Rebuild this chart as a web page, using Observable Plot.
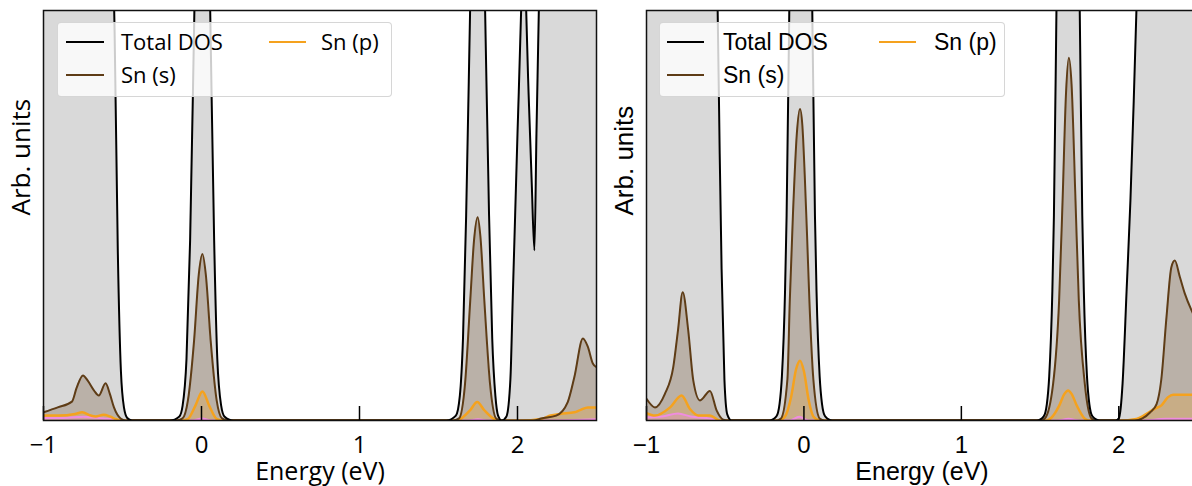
<!DOCTYPE html>
<html><head><meta charset="utf-8">
<script src="https://cdn.jsdelivr.net/npm/d3@7"></script>
<script src="https://cdn.jsdelivr.net/npm/@observablehq/plot@0.6"></script>
<style>
html,body{margin:0;padding:0;background:#fff;overflow:hidden;}
#wrap{position:relative;width:1192px;height:486px;overflow:hidden;}
.panel{position:absolute;top:0;height:486px;}
.panel svg{max-width:none !important;}
.legend{position:absolute;background:rgba(255,255,255,0.8);border:1px solid rgba(210,210,210,0.9);border-radius:4px;box-sizing:border-box;}
.legend svg{position:absolute;left:0;top:0;overflow:visible;}
</style></head>
<body><div id="wrap"></div>
<script>
// ---------- data (energy in eV, DOS in arbitrary units; frame top = 1) ----------
const xTicks = [-1, 0, 1, 2];
const legendLabels = ["Total DOS", "Sn (s)", "Sn (p)"];

// Panel A (left)
const totalDosA = [[-1,3],[-0.7,2.8],[-0.6,1.8],[-0.57,1.25],[-0.55,0.95],[-0.53,0.42],[-0.51,0.12],[-0.49,0.03],[-0.47,0.006],[-0.44,0],
  [-0.2,0],[-0.14,0.01],[-0.12,0.035],[-0.095,0.15],[-0.072,0.44],[-0.045,1.0],[-0.02,1.5],[0.005,1.7],[0.03,1.5],[0.055,1.0],[0.08,0.44],[0.10,0.15],[0.125,0.035],[0.145,0.01],[0.2,0],
  [1.55,0],[1.61,0.012],[1.635,0.06],[1.655,0.2],[1.675,0.5],[1.70,1.0],[1.725,1.5],[1.748,1.7],[1.77,1.5],[1.795,1.0],[1.82,0.5],[1.84,0.2],[1.86,0.06],[1.877,0.012],[1.90,0],
  [1.93,0.01],[1.955,0.1],[1.97,0.3],[1.985,0.5],[2.0,0.7],[2.023,1.0],[2.04,1.3],[2.055,1.0],[2.07,0.8],[2.09,0.58],[2.107,0.415],[2.12,0.7],[2.135,1.0],[2.16,1.6],[2.3,2.5],[2.5,3]];
const snSA = [[-1,0.02],[-0.91,0.032],[-0.82,0.046],[-0.79,0.08],[-0.75,0.11],[-0.72,0.097],[-0.68,0.073],[-0.65,0.061],[-0.607,0.091],[-0.58,0.065],[-0.554,0.032],[-0.512,0.005],[-0.48,0],
  [-0.16,0],[-0.12,0.005],[-0.086,0.049],[-0.047,0.195],[-0.017,0.357],[0.006,0.406],[0.027,0.357],[0.058,0.195],[0.096,0.049],[0.13,0.005],[0.17,0],
  [1.59,0],[1.63,0.005],[1.668,0.09],[1.701,0.293],[1.725,0.44],[1.748,0.496],[1.765,0.45],[1.79,0.293],[1.826,0.09],[1.865,0.005],[1.9,0],
  [2.1,0],[2.15,0.005],[2.245,0.012],[2.318,0.045],[2.36,0.106],[2.414,0.2],[2.445,0.18],[2.477,0.139],[2.5,0.13]];
const snPA = [[-1,0.012],[-0.9,0.012],[-0.8,0.016],[-0.755,0.02],[-0.7,0.012],[-0.67,0.01],[-0.62,0.014],[-0.58,0.01],[-0.54,0.003],[-0.5,0],
  [-0.12,0],[-0.085,0.004],[-0.04,0.035],[0.006,0.071],[0.05,0.035],[0.095,0.004],[0.13,0],
  [1.6,0],[1.64,0.004],[1.7,0.025],[1.745,0.045],[1.79,0.025],[1.85,0.004],[1.89,0],
  [2.02,0],[2.15,0.004],[2.21,0.012],[2.27,0.016],[2.36,0.02],[2.40,0.026],[2.445,0.032],[2.5,0.032]];
const snDA = [[-1,0.006],[-0.85,0.007],[-0.75,0.009],[-0.65,0.006],[-0.55,0.003],[-0.5,0],[-0.06,0],[0.005,0.005],[0.06,0],[1.68,0],[1.75,0.003],[1.82,0],[2.2,0],[2.5,0.003]];

// Panel B (right)
const totalDosB = [[-1,3],[-0.7,2.8],[-0.6,1.8],[-0.57,1.25],[-0.548,1.0],[-0.535,0.65],[-0.523,0.37],[-0.505,0.1],[-0.487,0.015],[-0.46,0],
  [-0.22,0],[-0.175,0.01],[-0.155,0.04],[-0.14,0.107],[-0.12,0.315],[-0.11,0.5],[-0.093,1.0],[-0.06,2.2],[-0.02,3.2],[0.02,2.2],[0.053,1.0],[0.07,0.5],[0.08,0.315],[0.1,0.107],[0.115,0.04],[0.135,0.01],[0.18,0],
  [1.48,0],[1.523,0.01],[1.543,0.04],[1.558,0.107],[1.578,0.315],[1.588,0.5],[1.604,1.0],[1.64,2.2],[1.678,3.2],[1.716,2.2],[1.752,1.0],[1.768,0.5],[1.778,0.315],[1.798,0.107],[1.813,0.04],[1.833,0.01],[1.88,0],
  [1.98,0],[2.0,0.005],[2.012,0.03],[2.024,0.09],[2.05,0.32],[2.074,0.537],[2.095,0.78],[2.112,1.0],[2.14,1.4],[2.2,2],[2.5,3]];
const snSB = [[-1,0.053],[-0.946,0.032],[-0.883,0.065],[-0.83,0.13],[-0.8,0.22],[-0.77,0.313],[-0.735,0.22],[-0.703,0.098],[-0.66,0.049],[-0.597,0.072],[-0.554,0.024],[-0.512,0.002],[-0.48,0],
  [-0.18,0],[-0.146,0.005],[-0.105,0.1],[-0.09,0.29],[-0.07,0.5],[-0.045,0.7],[-0.025,0.76],[-0.01,0.72],[0.005,0.6],[0.02,0.45],[0.035,0.29],[0.06,0.1],[0.1,0.005],[0.13,0],
  [1.5,0],[1.53,0.005],[1.583,0.09],[1.621,0.293],[1.643,0.537],[1.665,0.8],[1.683,0.885],[1.7,0.82],[1.725,0.537],[1.746,0.293],[1.784,0.09],[1.827,0.005],[1.86,0],
  [2.1,0],[2.15,0.005],[2.2,0.02],[2.24,0.04],[2.27,0.1],[2.303,0.252],[2.334,0.374],[2.356,0.39],[2.388,0.35],[2.419,0.31],[2.463,0.268],[2.5,0.24]];
const snPB = [[-1,0.018],[-0.946,0.012],[-0.85,0.032],[-0.777,0.061],[-0.724,0.028],[-0.67,0.012],[-0.597,0.012],[-0.533,0],
  [-0.16,0],[-0.12,0.01],[-0.08,0.06],[-0.05,0.125],[-0.025,0.146],[0.0,0.12],[0.03,0.05],[0.06,0.01],[0.1,0],
  [1.54,0],[1.57,0.006],[1.62,0.035],[1.655,0.065],[1.678,0.073],[1.7,0.065],[1.735,0.035],[1.78,0.006],[1.81,0],
  [2.006,0],[2.112,0.004],[2.176,0.016],[2.229,0.029],[2.271,0.037],[2.313,0.057],[2.345,0.063],[2.5,0.063]];
const snDB = [[-1,0.008],[-0.9,0.01],[-0.8,0.017],[-0.72,0.01],[-0.62,0.006],[-0.52,0],[-0.09,0],[-0.03,0.009],[0.03,0],[1.61,0],[1.68,0.004],[1.75,0],[2.15,0],[2.3,0.004],[2.5,0.004]];

// ---------- styles ----------
const BROWN = "#5e3c16", ORANGE = "#f5a21e", PINK = "#f08ce0";
const legendColors = ["#000000", BROWN, ORANGE];

function panel({total, s, p, d, font, left, marginLeft, width, legend}) {
  const X = v => v[0], Y = v => v[1];
  const common = {x: X, y: Y, curve: "monotone-x", clip: true};
  const chart = Plot.plot({
    width, height: 486, marginTop: 10, marginBottom: 66, marginLeft, marginRight: 4,
    x: {domain: [-1, 2.5], axis: null},
    y: {domain: [0, 1], axis: null},
    style: {fontFamily: font, background: "transparent", color: "#000", maxWidth: "none"},
    marks: [
      Plot.areaY(total, {...common, fill: "#808080", fillOpacity: 0.3}),
      Plot.areaY(s, {...common, fill: BROWN, fillOpacity: 0.25}),
      Plot.areaY(p, {...common, fill: ORANGE, fillOpacity: 0.25}),
      Plot.areaY(d, {...common, fill: PINK, fillOpacity: 0.3}),
      Plot.lineY(d, {...common, stroke: PINK, strokeWidth: 2}),
      Plot.lineY(p, {...common, stroke: ORANGE, strokeWidth: 2.5}),
      Plot.lineY(s, {...common, stroke: BROWN, strokeWidth: 2}),
      Plot.lineY(total, {...common, stroke: "#000", strokeWidth: 2}),
      Plot.ruleX(xTicks, {stroke: "#000", strokeWidth: 1.5, insetTop: 396}),
      Plot.axisX(xTicks, {tickSize: 0, tickPadding: 15, fontSize: 24, label: null,
        tickFormat: v => v < 0 ? "\u2212" + Math.abs(v) : String(v)}),
      Plot.text(["Energy (eV)"], {frameAnchor: "bottom", dy: 51, fontSize: 25, lineAnchor: "middle", text: t => t}),
      Plot.text(["Arb. units"], {frameAnchor: "left", dx: -22, rotate: -90, fontSize: 26, lineAnchor: "middle", text: t => t}),
      Plot.frame({stroke: "#111", strokeWidth: 1.5})
    ]
  });
  const div = document.createElement("div");
  div.className = "panel";
  div.style.left = left + "px";
  div.style.width = width + "px";
  div.appendChild(chart);
  document.getElementById("wrap").appendChild(div);

  // legend (2 columns: Total DOS, Sn (s) | Sn (p))
  const lg = d3.select("#wrap").append("div").attr("class", "legend")
    .style("left", legend.x + "px").style("top", legend.y + "px")
    .style("width", legend.w + "px").style("height", legend.h + "px");
  const svg = lg.append("svg").attr("width", legend.w).attr("height", legend.h);
  const pos = [[0, 0], [0, 1], [1, 0]];
  legendLabels.forEach((lab, i) => {
    const [c, r] = pos[i];
    const cy = legend.rows[r];
    const [x1, x2, tx] = legend.cols[c];
    svg.append("line").attr("x1", x1).attr("x2", x2).attr("y1", cy).attr("y2", cy)
      .attr("stroke", legendColors[i]).attr("stroke-width", 2);
    svg.append("text").attr("x", tx).attr("y", cy).attr("dy", "0.35em")
      .attr("font-family", font).attr("font-size", legend.fs).attr("fill", "#000").text(lab);
  });
}

panel({total: totalDosA, s: snSA, p: snPA, d: snDA, font: "'Open Sans', sans-serif",
  left: 0, marginLeft: 43, width: 600,
  legend: {x: 57, y: 22, w: 335, h: 75, fs: 22, rows: [19, 52], cols: [[8, 46, 63], [211, 248, 263]]}});
panel({total: totalDosB, s: snSB, p: snPB, d: snDB, font: "'Liberation Sans', Arial, sans-serif",
  left: 600, marginLeft: 46, width: 601,
  legend: {x: 659, y: 22, w: 346, h: 75, fs: 23, rows: [19, 52], cols: [[7, 44, 63], [219, 256, 274]]}});
</script>
</body></html>
